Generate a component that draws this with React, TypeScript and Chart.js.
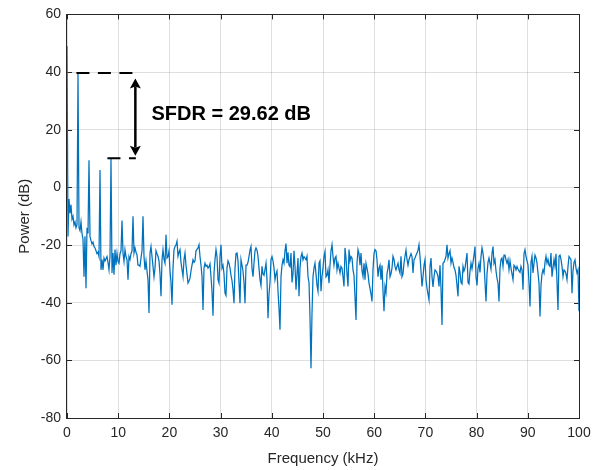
import React, { useEffect, useRef } from "react";
import { Chart, registerables } from "chart.js";

Chart.register(...registerables);

// ---------- data ----------
const X_TICKS = [0, 10, 20, 30, 40, 50, 60, 70, 80, 90, 100];
const Y_TICKS = [-80, -60, -40, -20, 0, 20, 40, 60];
const X_LABEL = "Frequency (kHz)";
const Y_LABEL = "Power (dB)";

// FFT bin spacing (kHz) of the spectrum grid
const BIN_KHZ = 100 / 512;

// power of every bin (dB)
const POWER_DB = [
  49, -17, -4, -9, -6, -11, -10, -13, -12, -14,
  -13, 39.7, -14, -15, -12, -16, -18, -31, -17, -35,
  -14, -16, 9.4, -17, -18.5, -19.6, -19, -20.5, -21, -22,
  -23, -22.5, -24, 6, -28.6, -25, -28.6, -24.5, -25.5, -24.8,
  -24, -26, -28.6, -24, 10.08, -29.7, -22.8, -30.3, -21.6, -27,
  -22.8, -25.7, -26.3, -23, -22, -11.5, -22.8, -25.7, -21.6, -24,
  -25.1, -32, -24, -25, -23, -22, -10, -22.8, -21, -22.5,
  -23.4, -27, -27, -27.4, -24.5, -22, -10, -24, -28.6, -25.5,
  -29, -32, -43.6, -22.8, -20.5, -24, -27.4, -31, -28, -22,
  -23, -23.9, -25.5, -30, -37.8, -25.1, -21.6, -25, -26.3, -16.4,
  -24.5, -24, -22, -29, -33, -40.7, -28, -21.6, -20.5, -20,
  -18.7, -23.9, -22.5, -21.6, -26, -28.5, -30.9, -25, -22.8, -27,
  -30, -33.2, -32.5, -31.5, -29, -27, -25.1, -26, -25.5, -22,
  -21.5, -21, -19.9, -24, -27, -30.9, -42.5, -28, -26.3, -27.4,
  -27, -28, -27.5, -26.5, -31, -36, -44.5, -29.7, -25, -21.6,
  -24, -32, -33.2, -24, -19.9, -28, -27, -30, -36.7, -37.5,
  -28, -25.5, -26.3, -28, -30.5, -32.3, -35.5, -40.2, -28, -23,
  -22.8, -25.5, -33, -40.2, -25.1, -27, -29, -33, -40.2, -27,
  -27, -26, -23.9, -21.8, -20.5, -28, -31, -26.3, -22, -21,
  -21.8, -23.9, -28, -32, -34, -27.4, -30, -30.5, -28.5, -26.3,
  -32, -45.4, -37, -33, -25.1, -24, -25.5, -28, -32, -30,
  -29, -36, -42, -49.4, -31, -27, -25.1, -26.3, -22, -19.5,
  -26.3, -22.5, -27, -27.5, -22.8, -33, -30, -22, -27.4, -35.5,
  -30, -24.5, -37.8, -28, -24, -22.8, -25.1, -24, -24.5, -25.1,
  -23.9, -31, -33, -45, -62.7, -43.6, -31, -28, -26.3, -30,
  -34, -36, -26.3, -25.5, -36, -31, -28, -23.9, -22.2, -31,
  -30.5, -28.6, -33.2, -27, -22, -19.9, -23.9, -27, -24.5, -23.9,
  -28.6, -26.3, -28, -29.7, -27.4, -28, -31, -34.4, -21, -24.5,
  -30, -34.4, -21.6, -25.5, -24, -24.5, -28.6, -30.5, -38, -46,
  -26.3, -21.6, -23, -27, -22.8, -29, -30.9, -26.3, -32, -26.3,
  -28, -30, -33.2, -35, -37, -39.6, -28.6, -23, -21.6, -22,
  -25.1, -31, -28, -27, -32, -27, -36, -43, -34.4, -36.5,
  -30, -28, -25.1, -31, -30, -28, -23.9, -25, -27.5, -28.6,
  -27.4, -26.3, -28.5, -29.7, -23.9, -31, -30, -26.3, -23.9, -21.8,
  -25, -27, -25.1, -24, -23, -24, -29.7, -25.1, -24.5, -23.5,
  -22.8, -21.8, -19.9, -24, -29, -34.4, -31, -27, -25.1, -32,
  -35, -37, -39, -27.4, -24.5, -31, -34.5, -31, -28.6, -29,
  -29.7, -30.9, -34.4, -27, -35, -47.7, -26.3, -26, -25, -23.9,
  -19.9, -24.5, -23, -22, -26.3, -24.5, -26, -27.8, -28.6, -30.5,
  -34, -37.8, -27.4, -29.5, -33, -33.5, -27.4, -29, -28, -25.5,
  -22.8, -33, -33.5, -29, -26.3, -28.3, -26, -23.5, -20.5, -31,
  -34, -28, -26.3, -29.5, -24, -21, -22.8, -26, -33, -39.6,
  -30, -26, -24.5, -26.3, -28.3, -23, -20.5, -26.3, -25.1, -29,
  -31.5, -33.2, -39.6, -28, -25, -24.5, -27.4, -23.5, -23.5, -25.1,
  -26.3, -25, -28.6, -25.5, -28, -30, -32, -27, -27.5, -28.6,
  -27.4, -28.3, -29, -29.5, -27.4, -28.6, -35.5, -23, -21.6, -23.9,
  -25.5, -27, -33, -41.3, -26, -23.9, -29.7, -26.3, -23.5, -24.5,
  -26.3, -29.7, -33.2, -44.8, -34, -30, -28.6, -29.7, -26, -23.9,
  -26.3, -25, -27, -27.4, -22.8, -31, -28, -25.1, -27.4, -23,
  -33, -42.5, -23.9, -23.5, -25, -27.4, -30.9, -28.6, -29, -30,
  -32, -27.4, -24, -24.5, -25.1, -36.7, -29, -26, -25.1, -28,
  -29.7, -28.6, -43,
];

// SFDR annotation (data coordinates)
const FUNDAMENTAL_DB = 39.7;
const SPUR_DB = 10.08;
const SFDR_TEXT = "SFDR = 29.62 dB";
const FUND_LINE_KHZ = [1.84, 12.92];
const SPUR_LINE_KHZ = [7.9, 13.45];
const ARROW_KHZ = 13.35;
const ARROW_DB = [37.8, 11.0];
const TEXT_POS = [16.5, 25.2];

const AXIS_COLOR = "#262626";
const LINE_COLOR = "#0072BD";
const FONT = '"Liberation Sans", Arial, Helvetica, sans-serif';

const overlayPlugin = {
  id: "sfdrOverlay",
  beforeDatasetsDraw(chart: any) {
    const { ctx, chartArea: a, scales } = chart;
    const x = scales.x;
    const y = scales.y;
    ctx.save();
    ctx.strokeStyle = AXIS_COLOR;
    ctx.lineWidth = 1;
    ctx.setLineDash([]);
    ctx.strokeRect(Math.round(a.left) - 0.5, Math.round(a.top) + 0.5,
      Math.round(a.right) - Math.round(a.left) + 1, Math.round(a.bottom) - Math.round(a.top));

    const TL = 5;
    ctx.beginPath();
    X_TICKS.forEach((v) => {
      const px = Math.round(x.getPixelForValue(v)) + 0.5;
      ctx.moveTo(px, a.bottom);
      ctx.lineTo(px, a.bottom - TL);
      ctx.moveTo(px, a.top);
      ctx.lineTo(px, a.top + TL);
    });
    Y_TICKS.forEach((v) => {
      const py = Math.round(y.getPixelForValue(v)) + 0.5;
      ctx.moveTo(a.left, py);
      ctx.lineTo(a.left + TL, py);
      ctx.moveTo(a.right, py);
      ctx.lineTo(a.right - TL, py);
    });
    ctx.stroke();
    ctx.restore();
  },
  afterDraw(chart: any) {
    const { ctx, scales } = chart;
    const x = scales.x;
    const y = scales.y;
    ctx.save();

    // dashed level lines
    ctx.strokeStyle = "#000";
    ctx.lineWidth = 2;
    ctx.setLineDash([13, 8.5]);
    const hline = (k0: number, k1: number, db: number) => {
      const py = y.getPixelForValue(db);
      ctx.beginPath();
      ctx.moveTo(x.getPixelForValue(k0), py);
      ctx.lineTo(x.getPixelForValue(k1), py);
      ctx.stroke();
    };
    hline(FUND_LINE_KHZ[0], FUND_LINE_KHZ[1], FUNDAMENTAL_DB);
    hline(SPUR_LINE_KHZ[0], SPUR_LINE_KHZ[1], SPUR_DB);
    ctx.setLineDash([]);

    // double arrow
    const ax = x.getPixelForValue(ARROW_KHZ);
    const yt = y.getPixelForValue(ARROW_DB[0]);
    const yb = y.getPixelForValue(ARROW_DB[1]);
    const HL = 10;
    const HW = 5.5;
    ctx.lineWidth = 2.5;
    ctx.beginPath();
    ctx.moveTo(ax, yt + HL - 2);
    ctx.lineTo(ax, yb - HL + 2);
    ctx.stroke();
    ctx.fillStyle = "#000";
    ctx.beginPath();
    ctx.moveTo(ax, yt);
    ctx.lineTo(ax + HW, yt + HL);
    ctx.lineTo(ax, yt + HL - 2);
    ctx.lineTo(ax - HW, yt + HL);
    ctx.closePath();
    ctx.fill();
    ctx.beginPath();
    ctx.moveTo(ax, yb);
    ctx.lineTo(ax + HW, yb - HL);
    ctx.lineTo(ax, yb - HL + 2);
    ctx.lineTo(ax - HW, yb - HL);
    ctx.closePath();
    ctx.fill();

    // label
    ctx.font = `bold 20px ${FONT}`;
    ctx.textAlign = "left";
    ctx.textBaseline = "middle";
    ctx.fillText(SFDR_TEXT, x.getPixelForValue(TEXT_POS[0]), y.getPixelForValue(TEXT_POS[1]));

    ctx.restore();
  },
};

export default function App() {
  const ref = useRef<HTMLCanvasElement | null>(null);

  useEffect(() => {
    if (!ref.current) return;
    const points = POWER_DB.map((p, i) => ({ x: i * BIN_KHZ, y: p }));
    const chart = new Chart(ref.current, {
      type: "line",
      data: {
        datasets: [
          {
            data: points,
            borderColor: LINE_COLOR,
            borderWidth: 1.25,
            pointRadius: 0,
            tension: 0,
            fill: false,
          },
        ],
      },
      options: {
        animation: false,
        responsive: false,
        devicePixelRatio: 1,
        layout: { autoPadding: false, padding: { left: 0, top: 14, right: 23, bottom: 0 } },
        plugins: { legend: { display: false }, tooltip: { enabled: false } },
        scales: {
          x: {
            type: "linear",
            min: 0,
            max: 100,
            afterFit: (s: any) => { s.height = 52; },
            afterBuildTicks: (s: any) => { s.ticks = X_TICKS.map((v) => ({ value: v })); },
            ticks: {
              color: AXIS_COLOR,
              font: { family: FONT, size: 14 },
              padding: 7,
              maxRotation: 0,
              autoSkip: false,
              callback: (v: any) => String(v),
            },
            grid: { color: "rgba(38,38,38,0.15)", drawTicks: false },
            border: { display: false },
            title: {
              display: true,
              text: X_LABEL,
              color: AXIS_COLOR,
              font: { family: FONT, size: 15 },
              padding: { top: 0, bottom: 2 },
            },
          },
          y: {
            type: "linear",
            min: -80,
            max: 60,
            afterFit: (s: any) => { s.width = 67; },
            afterBuildTicks: (s: any) => { s.ticks = Y_TICKS.map((v) => ({ value: v })); },
            ticks: {
              color: AXIS_COLOR,
              font: { family: FONT, size: 14 },
              padding: 6,
              autoSkip: false,
              callback: (v: any) => String(v),
            },
            grid: { color: "rgba(38,38,38,0.15)", drawTicks: false },
            border: { display: false },
            title: {
              display: true,
              text: Y_LABEL,
              color: AXIS_COLOR,
              font: { family: FONT, size: 15 },
              padding: { top: 16, bottom: 0 },
            },
          },
        },
      },
      plugins: [overlayPlugin],
    });
    return () => chart.destroy();
  }, []);

  return (
    <div style={{ position: "absolute", left: 0, top: 0, width: 602, height: 470, background: "#fff" }}>
      <canvas ref={ref} width={602} height={470} style={{ display: "block" }} />
    </div>
  );
}
